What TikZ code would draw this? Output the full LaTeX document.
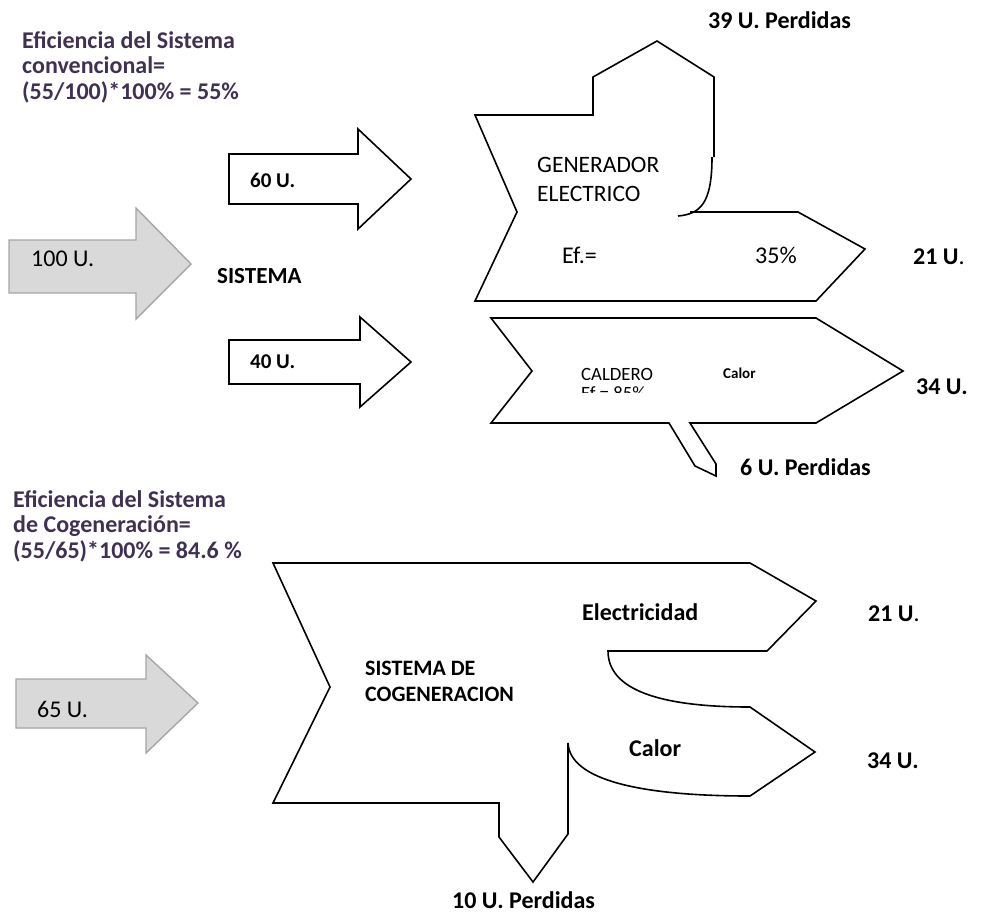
\documentclass[tikz,border=0pt]{standalone}
\usepackage{fontspec}
\setmainfont{Carlito}
\usepackage{xcolor}
\usepackage{tikz}
\definecolor{effpurple}{RGB}{64,49,82}

\begin{document}
\begin{tikzpicture}[x=1pt, y=-1pt,
  inarrow/.style={draw=black!35, fill=black!15, line width=1.4pt},
  flowline/.style={draw=black, line width=1.6pt, line join=miter},
  lbl/.style={anchor=base west, inner sep=0pt, font=\fontsize{24}{28}\selectfont},
  lblb/.style={anchor=base west, inner sep=0pt, font=\fontsize{24}{28}\selectfont\bfseries},
  multi/.style={anchor=north west, inner sep=0pt, align=left},
  effnote/.style={multi, text=effpurple, font=\fontsize{24}{25.5}\selectfont\bfseries},
]
  \useasboundingbox (0,0) rectangle (981,919);

  % sistema convencional
  \node[effnote] (eff1) at (22,31) {Eficiencia del Sistema\\convencional=\\(55/100)*100\% = 55\%};

  \draw[inarrow] (9,240) -- (136,240) -- (136,208) -- (191,264) -- (136,319) -- (136,293) -- (9,293) -- cycle;
  \node[lbl] (in100) at (31,266) {100 U.};
  \node[lblb, font=\fontsize{23}{28}\selectfont\bfseries] (sis) at (217,283) {SISTEMA};

  \draw[flowline] (229,154) -- (358,154) -- (358,129) -- (411,179) -- (358,229) -- (358,204) -- (229,204) -- cycle;
  \node[lblb, font=\fontsize{21}{24}\selectfont\bfseries] (in60) at (250,187) {60 U.};
  \draw[flowline] (229,340) -- (360,340) -- (360,317) -- (411,362) -- (360,407) -- (360,384) -- (229,384) -- cycle;
  \node[lblb, font=\fontsize{21}{24}\selectfont\bfseries] (in40) at (250,368) {40 U.};

  % generador electrico
  \draw[flowline] (690,212) -- (798,212) -- (865,249) -- (816,301) -- (475,301) -- (517,212)
    -- (475,115) -- (593,115) -- (593,77) -- (657,41) -- (714,77) -- (714,157);
  \draw[flowline] (712,157) .. controls (712,204) and (700,214) .. (678,216);
  \node[multi, font=\fontsize{23.5}{29}\selectfont] (gen) at (537,157) {GENERADOR\\ELECTRICO};
  \node[lbl] (efg) at (562,263) {Ef.=};
  \node[lbl] (efgv) at (755,263) {35\%};
  \node[lbl] (out21) at (913,264) {\textbf{21 U}.};
  \node[lblb] (loss39) at (708,28) {39 U. Perdidas};

  % caldero
  \draw[flowline] (491,318) -- (816,318) -- (903,371) -- (816,423) -- (690,423) -- (716,464)
    -- (716,476) -- (695,466) -- (669,423) -- (491,423) -- (532,371) -- cycle;
  \begin{scope}
    \clip (560,350) rectangle (705,392);
    \node[multi, font=\fontsize{18.75}{19}\selectfont] (cald) at (581,368) {CALDERO\\Ef = 85\%};
  \end{scope}
  \node[lblb, font=\fontsize{15}{18}\selectfont\bfseries] (calc) at (723,378) {Calor};
  \node[lblb] (out34) at (916,394) {34 U.};
  \node[lblb] (loss6) at (740,475) {6 U. Perdidas};

  % sistema de cogeneracion
  \node[effnote] (eff2) at (13,490) {Eficiencia del Sistema\\de Cogeneración=\\(55/65)*100\% = 84.6 \%};

  \draw[inarrow] (16,679) -- (146,679) -- (146,655) -- (198,703) -- (146,753) -- (146,728) -- (16,728) -- cycle;
  \node[lbl] (in65) at (37,717) {65 U.};

  \draw[flowline] (273,563) -- (750,563) -- (816,601) -- (767,651) -- (608,651)
    .. controls (608,690) and (660,707) .. (750,707) -- (815,752) -- (750,796)
    .. controls (640,796) and (570,780) .. (568,743) -- (568,834) -- (533,882)
    -- (499,837) -- (499,803) -- (273,803) -- (330,687) -- cycle;
  \node[multi, font=\fontsize{22}{26}\selectfont\bfseries] (cog) at (365,661) {SISTEMA DE\\COGENERACION};
  \node[lblb] (elec) at (582,620) {Electricidad};
  \node[lbl] (cout21) at (868,621) {\textbf{21 U}.};
  \node[lblb] (calo) at (629,756) {Calor};
  \node[lblb] (cout34) at (867,768) {34 U.};
  \node[lblb] (loss10) at (452,908) {10 U. Perdidas};
\end{tikzpicture}
\end{document}
